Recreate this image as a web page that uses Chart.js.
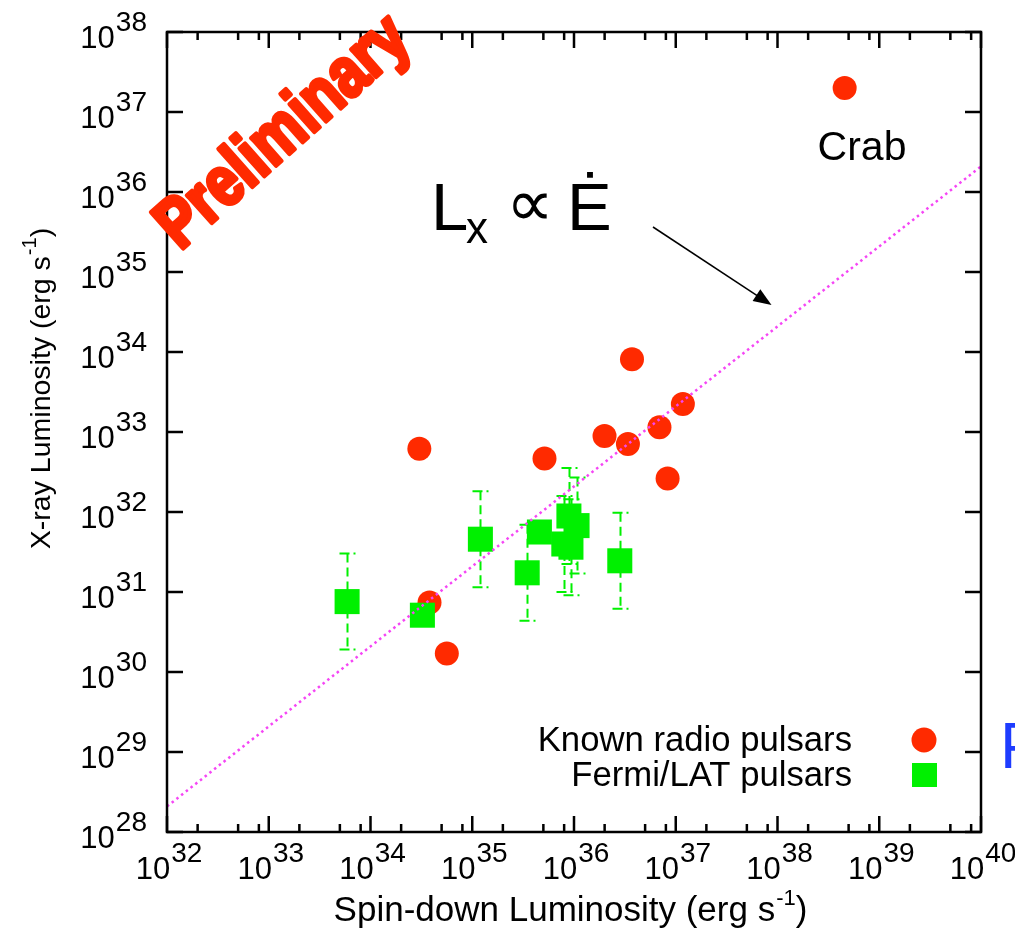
<!DOCTYPE html>
<html>
<head>
<meta charset="utf-8">
<script src="https://cdn.jsdelivr.net/npm/chart.js@4"></script>
<style>
  html, body { margin: 0; padding: 0; background: #fff; }
  canvas { display: block; }
</style>
</head>
<body>
<canvas id="myChart" width="1015" height="943"></canvas>
<script>
// all values are log10
const radio_edot = [34.48, 36.57, 37.07, 36.84, 36.30, 36.53, 36.92, 35.71, 34.58, 34.75, 38.66]
const radio_lx   = [32.79, 33.91, 33.35, 33.06, 32.95, 32.85, 32.42, 32.67, 30.87, 30.23, 37.30]

const fermi_edot  = [33.77, 34.51, 35.08, 35.54, 35.66, 35.95, 36.03, 35.90, 35.97, 36.45]
const fermi_lx    = [30.88, 30.71, 31.66, 31.24, 31.75, 31.95, 31.83, 31.60, 31.56, 31.39]
const fermi_lx_lo = [30.28, null, 31.06, 30.64, null, 31.35, 31.23, 31.00, 30.96, 30.79]
const fermi_lx_hi = [31.48, null, 32.26, 31.84, null, 32.55, 32.43, 32.20, 32.16, 31.99]

// Lx proportional to Edot
const line_edot = [32, 40]
const line_lx   = [28.32, 36.32]

const x_ticks = [32, 33, 34, 35, 36, 37, 38, 39, 40]
const y_ticks = [28, 29, 30, 31, 32, 33, 34, 35, 36, 37, 38]
const x_minor = [2, 5, 8]

const legend_labels = ['Known radio pulsars', 'Fermi/LAT pulsars']

const RED = '#ff2a00'
const GREEN = '#00f000'
const FONT = '"Liberation Sans", Arial, Helvetica, sans-serif'

function to_points(xs, ys) {
    return xs.map((x, i) => ({ x: 10 ** x, y: 10 ** ys[i] }))
}

function draw_pow(ctx, x, y, exp, align) {
    ctx.font = `31px ${FONT}`
    let w10 = ctx.measureText('10').width
    ctx.font = `28px ${FONT}`
    let wexp = ctx.measureText(String(exp)).width + 1
    let start = align == 'center' ? x - (w10 + wexp) / 2 : x - (w10 + wexp)
    ctx.textAlign = 'left'
    ctx.textBaseline = 'alphabetic'
    ctx.font = `31px ${FONT}`
    ctx.fillText('10', start, y)
    ctx.font = `28px ${FONT}`
    ctx.fillText(String(exp), start + w10 + 1, y - 17)
}

// text with a "-1" superscript before the closing bracket
function draw_unit_title(ctx, x, y, main, size, sup_size, raise) {
    ctx.font = `${size}px ${FONT}`
    let w1 = ctx.measureText(main).width
    let w3 = ctx.measureText(')').width
    ctx.font = `${sup_size}px ${FONT}`
    let w2 = ctx.measureText('-1').width
    let start = x - (w1 + w2 + w3) / 2
    ctx.textAlign = 'left'
    ctx.font = `${size}px ${FONT}`
    ctx.fillText(main, start, y)
    ctx.fillText(')', start + w1 + w2 + 1, y)
    ctx.font = `${sup_size}px ${FONT}`
    ctx.fillText('-1', start + w1 + 1, y - raise)
}

// put a glyph so that its ink box has the given width and centre
function fit_glyph(ctx, ch, cx, cy, width) {
    ctx.font = `100px ${FONT}`
    let m = ctx.measureText(ch)
    let ink_w = m.actualBoundingBoxLeft + m.actualBoundingBoxRight
    let size = 100 * width / ink_w
    ctx.font = `${size}px ${FONT}`
    m = ctx.measureText(ch)
    let left = cx - (m.actualBoundingBoxRight - m.actualBoundingBoxLeft) / 2
    let base = cy + (m.actualBoundingBoxAscent - m.actualBoundingBoxDescent) / 2
    ctx.textAlign = 'left'
    ctx.fillText(ch, left, base)
}

const error_bars = {
    id: 'error_bars',
    beforeDatasetsDraw(chart) {
        const ctx = chart.ctx
        const xs = chart.scales.x
        const ys = chart.scales.y
        ctx.save()
        ctx.strokeStyle = GREEN
        ctx.lineWidth = 2
        fermi_edot.forEach((e, i) => {
            if (fermi_lx_lo[i] == null) return
            let px = Math.round(xs.getPixelForValue(10 ** e)) + 0.5
            let top = ys.getPixelForValue(10 ** fermi_lx_hi[i])
            let bot = ys.getPixelForValue(10 ** fermi_lx_lo[i])
            ctx.setLineDash([9, 5])
            ctx.beginPath()
            ctx.moveTo(px, top)
            ctx.lineTo(px, bot)
            ctx.stroke()
            ctx.setLineDash([10, 4])
            ctx.beginPath()
            ctx.moveTo(px - 8, top)
            ctx.lineTo(px + 8, top)
            ctx.moveTo(px - 8, bot)
            ctx.lineTo(px + 8, bot)
            ctx.stroke()
        })
        ctx.restore()
    }
}

const decorations = {
    id: 'decorations',
    afterDatasetsDraw(chart) {
        const ctx = chart.ctx
        const xs = chart.scales.x
        const ys = chart.scales.y
        const a = chart.chartArea
        ctx.save()

        // frame
        ctx.strokeStyle = '#000'
        ctx.lineWidth = 2.5
        ctx.setLineDash([])
        ctx.strokeRect(a.left, a.top, a.right - a.left, a.bottom - a.top)

        // ticks
        ctx.beginPath()
        x_ticks.forEach(t => {
            let px = xs.getPixelForValue(10 ** t)
            ctx.moveTo(px, a.bottom); ctx.lineTo(px, a.bottom - 16)
            ctx.moveTo(px, a.top); ctx.lineTo(px, a.top + 16)
            if (t < 40) {
                x_minor.forEach(m => {
                    let mx = xs.getPixelForValue(m * 10 ** t)
                    ctx.moveTo(mx, a.bottom); ctx.lineTo(mx, a.bottom - 8)
                    ctx.moveTo(mx, a.top); ctx.lineTo(mx, a.top + 8)
                })
            }
        })
        y_ticks.forEach(t => {
            let py = ys.getPixelForValue(10 ** t)
            ctx.moveTo(a.left, py); ctx.lineTo(a.left + 16, py)
            ctx.moveTo(a.right, py); ctx.lineTo(a.right - 16, py)
        })
        ctx.stroke()

        // tick labels
        ctx.fillStyle = '#000'
        x_ticks.forEach(t => draw_pow(ctx, xs.getPixelForValue(10 ** t) + 2, 879, t, 'center'))
        y_ticks.forEach(t => draw_pow(ctx, 147, ys.getPixelForValue(10 ** t) + 16, t, 'right'))

        // axis titles
        draw_unit_title(ctx, 570, 921, 'Spin-down Luminosity (erg s', 35, 22, 16)
        ctx.save()
        ctx.translate(50, 389)
        ctx.rotate(-Math.PI / 2)
        draw_unit_title(ctx, 0, 0, 'X-ray Luminosity (erg s', 28.5, 20, 14)
        ctx.restore()

        // legend
        ctx.font = `34.7px ${FONT}`
        ctx.textAlign = 'right'
        ctx.fillText(legend_labels[0], 852, 751)
        ctx.fillText(legend_labels[1], 852, 786)
        ctx.fillStyle = chart.data.datasets[2].backgroundColor
        ctx.beginPath()
        ctx.arc(924, 740, 12.5, 0, Math.PI * 2)
        ctx.fill()
        ctx.fillStyle = chart.data.datasets[1].backgroundColor
        ctx.fillRect(912, 763, 25, 24)

        // annotations
        ctx.fillStyle = '#000'
        ctx.textAlign = 'center'
        ctx.font = `41px ${FONT}`
        ctx.fillText('Crab', 862, 160)

        ctx.textAlign = 'left'
        ctx.font = `67px ${FONT}`
        ctx.fillText('L', 431, 230)
        ctx.font = `44px ${FONT}`
        ctx.fillText('x', 466, 243)
        fit_glyph(ctx, '\u221D', 530, 206, 34)
        ctx.font = `67px ${FONT}`
        ctx.fillText('\u0116', 567, 230)

        // arrow
        let x0 = 653, y0 = 227, x1 = 771.5, y1 = 305
        let ang = Math.atan2(y1 - y0, x1 - x0)
        ctx.strokeStyle = '#000'
        ctx.lineWidth = 1.5
        ctx.beginPath()
        ctx.moveTo(x0, y0)
        ctx.lineTo(x1 - 14 * Math.cos(ang), y1 - 14 * Math.sin(ang))
        ctx.stroke()
        ctx.beginPath()
        ctx.moveTo(x1, y1)
        ctx.lineTo(x1 - 18 * Math.cos(ang) + 7 * Math.sin(ang), y1 - 18 * Math.sin(ang) - 7 * Math.cos(ang))
        ctx.lineTo(x1 - 18 * Math.cos(ang) - 7 * Math.sin(ang), y1 - 18 * Math.sin(ang) + 7 * Math.cos(ang))
        ctx.closePath()
        ctx.fill()

        // Preliminary stamp
        ctx.save()
        ctx.translate(180, 251)
        ctx.rotate(-41.6 * Math.PI / 180)
        ctx.font = `bold 70px ${FONT}`
        let w = ctx.measureText('Preliminary').width
        ctx.scale(312 / w, 1)
        ctx.fillStyle = RED
        ctx.strokeStyle = RED
        ctx.lineWidth = 4.5
        ctx.lineJoin = 'round'
        ctx.fillText('Preliminary', 0, 0)
        ctx.strokeText('Preliminary', 0, 0)
        ctx.restore()

        // cut-off blue letter on the right edge
        ctx.fillStyle = '#1e3cff'
        ctx.font = `64px ${FONT}`
        ctx.fillText('P', 1000, 768)

        ctx.restore()
    }
}

new Chart(document.getElementById('myChart'), {
    type: 'scatter',
    data: {
        datasets: [{
            type: 'line',
            label: 'Lx ~ Edot',
            data: to_points(line_edot, line_lx),
            borderColor: '#f546f5',
            borderWidth: 2.5,
            borderDash: [2.5, 3.5],
            pointRadius: 0,
            fill: false
        }, {
            label: legend_labels[1],
            data: to_points(fermi_edot, fermi_lx),
            pointStyle: 'rect',
            pointRadius: 17.7,
            backgroundColor: GREEN,
            borderWidth: 0
        }, {
            label: legend_labels[0],
            data: to_points(radio_edot, radio_lx),
            pointStyle: 'circle',
            pointRadius: 12,
            backgroundColor: RED,
            borderWidth: 0
        }]
    },
    options: {
        responsive: false,
        animation: false,
        layout: { padding: { left: 167, top: 32, right: 34, bottom: 111 } },
        scales: {
            x: { type: 'logarithmic', min: 1e32, max: 1e40, display: false },
            y: { type: 'logarithmic', min: 1e28, max: 1e38, display: false }
        },
        plugins: { legend: { display: false }, tooltip: { enabled: false } },
        elements: { point: { hoverRadius: 0 } }
    },
    plugins: [error_bars, decorations]
})
</script>
</body>
</html>
